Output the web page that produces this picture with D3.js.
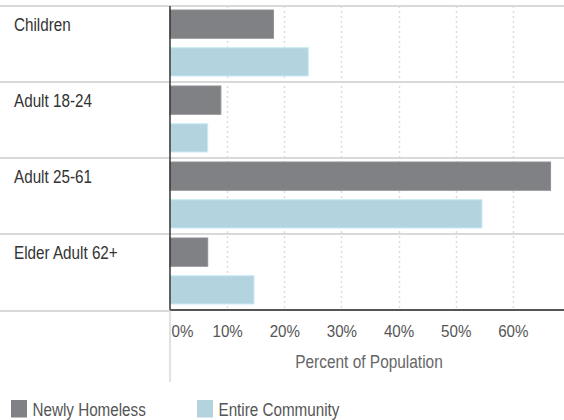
<!DOCTYPE html>
<html>
<head>
<meta charset="utf-8">
<script src="https://cdn.jsdelivr.net/npm/d3@7"></script>
<style>
  html, body { margin: 0; padding: 0; background: #fff; }
  svg { display: block; font-family: "Liberation Sans", Arial, sans-serif; }
</style>
</head>
<body>
<svg id="chart" width="564" height="420"></svg>
<script>
// Age groups and the share of each population that falls in them (%)
const categories = ["Children", "Adult 18-24", "Adult 25-61", "Elder Adult 62+"];
const seriesNames = ["Newly Homeless", "Entire Community"];
const newlyHomeless = [18.1, 8.9, 66.6, 6.6];
const entireCommunity = [24.2, 6.6, 54.6, 14.7];
const tickValues = [0, 10, 20, 30, 40, 50, 60];
const axisTitle = "Percent of Population";

const colors = { "Newly Homeless": "#808184", "Entire Community": "#b3d3df" };

const W = 564;
const svg = d3.select("#chart");

const plotLeft = 170, plotTop = 6, plotBottom = 310;

// condensed type: tall glyphs squeezed horizontally
function placeText(sel, px, py, size, squeeze) {
  sel.attr("x", 0).attr("y", 0)
    .attr("font-size", size + "px")
    .attr("transform", `translate(${px},${py}) scale(${squeeze},1)`);
  return sel;
}

const x = d3.scaleLinear().domain([0, 70]).range([plotLeft, 570]);
const y = d3.scaleBand().domain(categories).range([plotTop, plotBottom]).padding(0);
const inner = d3.scaleBand().domain(seriesNames).range([4, 70]).paddingInner(0.25).paddingOuter(0);

const rows = categories.map((c, i) => ({
  category: c,
  values: [
    { series: seriesNames[0], value: newlyHomeless[i] },
    { series: seriesNames[1], value: entireCommunity[i] }
  ]
}));

// dotted vertical gridlines
svg.append("g")
  .selectAll("line")
  .data(tickValues.slice(1))
  .join("line")
  .attr("x1", d => Math.round(x(d)) + 0.5)
  .attr("x2", d => Math.round(x(d)) + 0.5)
  .attr("y1", plotTop)
  .attr("y2", plotBottom)
  .attr("stroke", "#dcdcdc")
  .attr("stroke-width", 1.5)
  .attr("stroke-dasharray", "2,3");

// horizontal separators between the groups
svg.append("g")
  .selectAll("line")
  .data(categories)
  .join("line")
  .attr("x1", 0)
  .attr("x2", W)
  .attr("y1", d => y(d))
  .attr("y2", d => y(d))
  .attr("stroke", "#d9d9d9")
  .attr("stroke-width", 2);

svg.append("line")
  .attr("x1", 0).attr("x2", plotLeft)
  .attr("y1", plotBottom + 1).attr("y2", plotBottom + 1)
  .attr("stroke", "#d9d9d9").attr("stroke-width", 2);

// bars
const groups = svg.append("g")
  .selectAll("g")
  .data(rows)
  .join("g")
  .attr("transform", d => `translate(0,${y(d.category)})`);

groups.selectAll("rect")
  .data(d => d.values)
  .join("rect")
  .attr("x", x(0))
  .attr("y", d => inner(d.series))
  .attr("width", d => x(d.value) - x(0))
  .attr("height", inner.bandwidth())
  .attr("fill", d => colors[d.series])
  .attr("stroke", d => d3.color(colors[d.series]).brighter(0.3))
  .attr("stroke-width", 1);

// category labels
groups.append("text")
  .attr("fill", "#333")
  .text(d => d.category)
  .call(placeText, 14, 24.7, 18.7, 0.815);

// axes lines
svg.append("line")
  .attr("x1", plotLeft).attr("x2", plotLeft)
  .attr("y1", plotBottom).attr("y2", 382)
  .attr("stroke", "#d9d9d9").attr("stroke-width", 1.5);

svg.append("line")
  .attr("x1", plotLeft).attr("x2", plotLeft)
  .attr("y1", plotTop).attr("y2", plotBottom)
  .attr("stroke", "#333").attr("stroke-width", 1.5);

svg.append("line")
  .attr("x1", plotLeft).attr("x2", W)
  .attr("y1", plotBottom).attr("y2", plotBottom)
  .attr("stroke", "#555").attr("stroke-width", 2);

// x axis tick labels
const xAxis = d3.axisBottom(x)
  .tickValues(tickValues)
  .tickFormat(d => d + "%")
  .tickSize(0)
  .tickPadding(0);

const axisG = svg.append("g")
  .attr("transform", `translate(0,${plotBottom})`)
  .call(xAxis);
axisG.select(".domain").remove();
axisG.selectAll(".tick text")
  .attr("dy", null)
  .attr("fill", "#555")
  .attr("font-family", "\"Liberation Sans\", Arial, sans-serif")
  .attr("text-anchor", d => d === 0 ? "start" : "middle")
  .each(function (d) {
    d3.select(this).call(placeText, d === 0 ? 1 : 0, 26.8, 16.3, 0.93);
  });

// axis title
svg.append("text")
  .attr("text-anchor", "middle")
  .attr("fill", "#666")
  .text(axisTitle)
  .call(placeText, 369, 368.3, 18.6, 0.83);

// legend
const legendX = [11, 197];
const legend = svg.append("g")
  .selectAll("g")
  .data(seriesNames)
  .join("g")
  .attr("transform", (d, i) => `translate(${legendX[i]},400)`);

legend.append("rect")
  .attr("width", 16)
  .attr("height", 17.5)
  .attr("fill", d => colors[d]);

legend.append("text")
  .attr("fill", "#555")
  .text(d => d)
  .call(placeText, 21.5, 16, 18.8, 0.81);
</script>
</body>
</html>
